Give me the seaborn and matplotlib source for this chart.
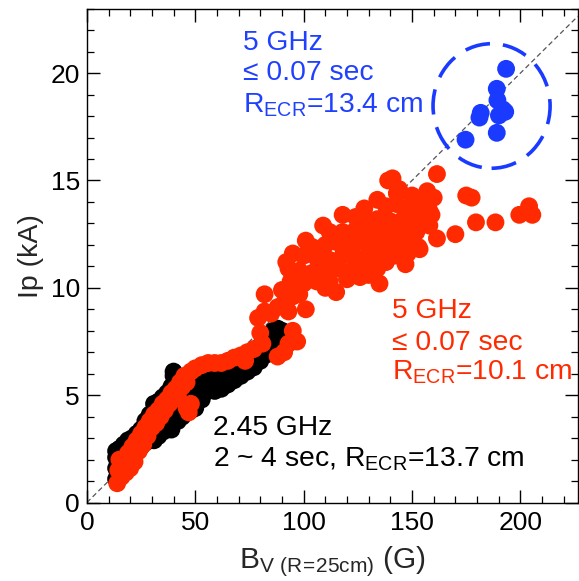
import numpy as np
import pandas as pd
import matplotlib
matplotlib.use("Agg")
import matplotlib.pyplot as plt
from matplotlib.patches import Ellipse
import seaborn as sns

# ---------------- data ----------------
black_x = [13.5, 13.5, 13.5, 13.5,
           15, 15, 15, 17, 17, 17, 19, 19, 19, 21, 21, 21, 23, 23, 23,
           25, 25, 25, 27, 27, 27, 29, 29, 29, 31, 31, 31, 33, 33, 33,
           35, 35, 35, 37, 37, 37, 39, 39, 39, 40, 40,
           42, 42, 42, 44, 44, 44, 46, 46, 46, 48, 48, 48, 50, 50, 50,
           53, 53, 53, 56, 56, 56, 59, 59, 59, 62, 62, 62, 65, 65, 65,
           68, 68, 68, 71, 71, 71, 74, 74, 74, 77, 77, 77, 80, 80, 80,
           83, 83, 83, 86, 86, 86, 88, 88, 88, 90, 90]
black_y = [1.1, 1.6, 2.1, 2.4,
           1.3, 1.9, 2.5, 1.5, 2.1, 2.7, 1.9, 2.4, 2.9, 2.2, 2.6, 3.0, 2.4, 2.8, 3.2,
           2.6, 3.0, 3.4, 2.8, 3.3, 3.8, 2.9, 3.5, 4.1, 2.9, 3.7, 4.6, 3.1, 3.9, 4.7,
           3.3, 4.1, 4.9, 3.4, 4.3, 5.1, 3.4, 4.5, 5.4, 5.9, 6.1,
           3.8, 4.7, 5.5, 4.0, 4.8, 5.5, 4.2, 5.0, 5.6, 4.3, 5.0, 5.6, 4.4, 5.1, 5.7,
           4.8, 5.3, 5.8, 5.2, 5.5, 5.9, 5.2, 5.6, 6.0, 5.3, 5.8, 6.1, 5.5, 5.9, 6.3,
           5.7, 6.1, 6.5, 5.9, 6.3, 6.7, 6.1, 6.5, 6.8, 6.3, 6.7, 7.1, 6.6, 7.0, 7.3,
           6.9, 7.3, 7.7, 7.3, 7.7, 8.0, 7.5, 7.8, 8.1, 7.7, 8.0]

red_x = [14, 14.5, 15, 16, 17, 18, 19, 20, 21, 22, 23, 24, 25, 26, 27, 28, 29, 30,
         31, 32, 33, 34, 35, 36, 37, 38, 39, 40, 41, 42, 43, 44, 45, 46, 47, 46, 48,
         48, 50, 53, 56, 59, 62, 65, 68, 71, 74, 77, 73,
         80, 81, 79, 82, 85, 88, 91, 82, 88, 91, 93, 95, 97, 93, 95, 90,
         93, 98, 101, 115, 110,
         94, 100, 106, 112, 120, 126, 135, 130,
         93, 98, 104, 110, 116, 122, 128, 134, 138, 147,
         92, 95, 100, 106, 112, 118, 124, 130, 136, 142, 148,
         101, 104, 110, 116, 122, 128, 134, 140, 146, 153,
         109, 112, 118, 124, 130, 136, 142, 148, 152, 158,
         118, 124, 128, 134, 140, 146, 150, 154, 159,
         128, 134, 138, 143, 148, 153, 158,
         139, 141, 143, 144, 150, 154, 160, 157,
         161.5, 175, 177.5, 179.5, 188.5, 199.5, 204, 205.5, 170, 161.5, 153.5]
red_y = [0.9, 1.5, 2.0, 1.2, 1.8, 1.4, 2.3, 1.6, 2.6, 1.9, 2.9, 2.4, 3.2, 2.7, 3.5, 3.1, 3.8, 3.5,
         4.1, 3.7, 4.3, 4.0, 4.6, 4.3, 4.8, 4.6, 5.1, 4.8, 5.3, 5.0, 5.6, 5.4, 5.9, 5.6, 4.2, 4.4, 4.6,
         6.1, 6.25, 6.4, 6.5, 6.5, 6.5, 6.6, 6.75, 6.85, 7.0, 7.15, 6.6,
         7.9, 7.4, 8.6, 8.9, 8.8, 9.1, 9.3, 9.7, 6.8, 7.0, 7.4, 8.0, 7.5, 8.9, 9.6, 9.9,
         9.8, 9.7, 9.0, 9.8, 10.0,
         10.3, 10.2, 10.3, 10.3, 10.4, 10.5, 10.2, 10.6,
         10.9, 10.8, 10.7, 10.8, 10.9, 10.8, 10.9, 10.9, 11.2, 11.1,
         11.2, 11.6, 11.5, 11.4, 11.3, 11.5, 11.4, 11.5, 11.6, 11.5, 11.6,
         12.2, 11.9, 12.0, 12.1, 12.0, 12.1, 12.0, 12.0, 12.1, 11.9,
         12.9, 12.6, 12.6, 12.7, 12.6, 12.5, 12.6, 12.5, 12.6, 12.9,
         13.4, 13.3, 13.1, 13.2, 13.1, 13.2, 13.0, 13.3, 13.4,
         13.7, 14.1, 13.8, 13.9, 13.7, 13.8, 13.6,
         15.0, 15.1, 14.4, 14.6, 14.3, 14.1, 14.2, 14.5,
         15.3, 14.3, 14.2, 13.05, 13.05, 13.4, 13.8, 13.4, 12.5, 12.3, 11.8]

blue_x = [193.4, 189.1, 189.4, 191.9, 190.1, 181.7, 181.1, 189.1, 174.7, 193.0]
blue_y = [20.2, 19.27, 18.74, 18.31, 18.03, 18.15, 17.93, 17.22, 16.9, 18.2]

groups = ["2.45 GHz", "5 GHz long", "5 GHz short"]
colors = {"2.45 GHz": "#000000", "5 GHz long": "#ff2a00", "5 GHz short": "#1a3bff"}

# dashed ring around the 5 GHz (R_ECR=13.4 cm) group
ring_center = (186.7, 18.47)
ring_width = 54.0
ring_height = 5.8

# ---------------- style ----------------
sns.set_style("ticks")
plt.rcParams["font.family"] = ["Liberation Sans", "DejaVu Sans"]
plt.rcParams["mathtext.fontset"] = "custom"
plt.rcParams["mathtext.rm"] = "Liberation Sans"
plt.rcParams["mathtext.default"] = "regular"

df = pd.concat([
    pd.DataFrame({"Bv": black_x, "Ip": black_y, "g": groups[0]}),
    pd.DataFrame({"Bv": red_x, "Ip": red_y, "g": groups[1]}),
    pd.DataFrame({"Bv": blue_x, "Ip": blue_y, "g": groups[2]}),
], ignore_index=True)

fig = plt.figure(figsize=(5.79, 5.81), dpi=100)
ax = fig.add_axes([0.150, 0.135, 0.848, 0.850])

ax.axline((0, 0), slope=0.1, color="#555555", lw=0.9, ls=(0, (4, 2.5)), zorder=1)

sns.scatterplot(data=df, x="Bv", y="Ip", hue="g", palette=colors, hue_order=groups,
                s=165, linewidth=0, edgecolor="none", legend=False, ax=ax, zorder=2)

ring = Ellipse(ring_center, ring_width, ring_height, fill=False, edgecolor="#1a3bff",
               lw=2.6, ls=(0, (7.0, 3.6)), zorder=3)
ax.add_patch(ring)

ax.set_xlim(0, 226.5)
ax.set_ylim(0, 23.0)
ax.set_xticks([0, 50, 100, 150, 200])
ax.set_yticks([0, 5, 10, 15, 20])
ax.set_xticks(np.arange(0, 227, 10), minor=True)
ax.set_yticks(np.arange(0, 23.1, 1), minor=True)
ax.tick_params(which="both", direction="in", top=True, right=True, colors="black")
ax.tick_params(which="major", length=9.5, width=1.0, labelsize=19)
ax.tick_params(which="minor", length=5, width=0.9)
ax.tick_params(axis="x", which="major", pad=6)
ax.tick_params(axis="y", which="major", pad=5)
for sp in ax.spines.values():
    sp.set_linewidth(1.0)
    sp.set_color("black")

ax.set_xlabel(r"B$_{V\ (R\!=\!25cm)}$ (G)", fontsize=21.5, labelpad=7)
ax.set_ylabel("Ip (kA)", fontsize=20.5, labelpad=5)

fs = 20.3
blue_c = "#2040ff"
ax.text(72.2, 21.1, "5 GHz", color=blue_c, fontsize=fs, va="baseline")
ax.text(72.2, 19.68, "\u2264 0.07 sec", color=blue_c, fontsize=fs, va="baseline")
ax.text(72.2, 18.17, r"R$_{ECR}$=13.4 cm", color=blue_c, fontsize=fs, va="baseline")

red_c = "#ff2a00"
ax.text(140.7, 8.61, "5 GHz", color=red_c, fontsize=fs, va="baseline")
ax.text(140.7, 7.12, "\u2264 0.07 sec", color=red_c, fontsize=fs, va="baseline")
ax.text(140.7, 5.72, r"R$_{ECR}$=10.1 cm", color=red_c, fontsize=fs, va="baseline")

ax.text(58.3, 3.14, "2.45 GHz", color="black", fontsize=fs, va="baseline")
ax.text(58.3, 1.69, r"2 ~ 4 sec, R$_{ECR}$=13.7 cm", color="black", fontsize=fs, va="baseline")

fig.savefig("out.png", dpi=100, facecolor="white")
